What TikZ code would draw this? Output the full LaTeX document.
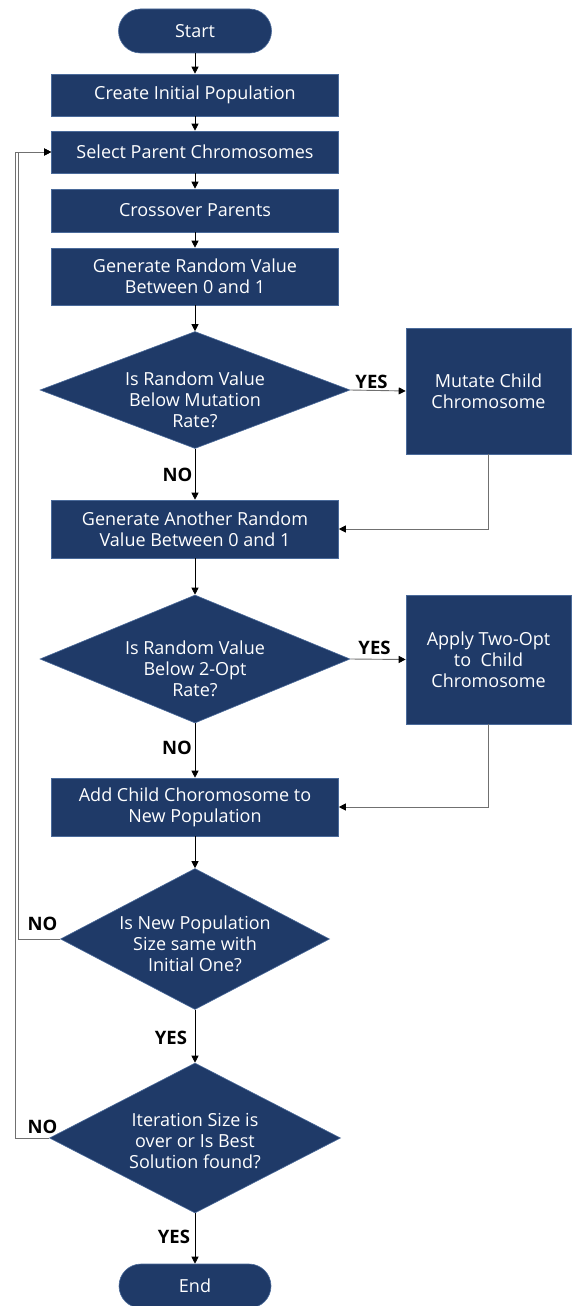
\documentclass[tikz,border=0pt]{standalone}
\usepackage{fontspec}
\setmainfont{Open Sans}
\usetikzlibrary{shapes.geometric,arrows.meta}
\definecolor{navy}{HTML}{1F3A68}
\definecolor{edge}{HTML}{4A6A9A}
\definecolor{wire}{HTML}{707070}
\begin{document}
\begin{tikzpicture}[x=1pt,y=-1pt,
  txt/.style={text=white, align=center, font=\fontsize{18}{21}\selectfont, inner sep=0pt},
  box/.style={rectangle, fill=navy, draw=edge, line width=0.6pt, txt},
  pill/.style={box, rounded corners=22pt},
  dec/.style={diamond, fill=navy, draw=edge, line width=0.6pt, inner sep=0pt},
  lab/.style={font=\fontsize{18.5}{20}\selectfont\bfseries, text=black, inner sep=0pt},
  flow/.style={draw=black, line width=0.8pt, -{Triangle[length=7pt,width=7pt]}},
  side/.style={draw=wire, line width=0.9pt, -{Triangle[length=7pt,width=7pt,color=black]}}]

\useasboundingbox (0,0) rectangle (571,1306);
\fill[white] (0,0) rectangle (571,1306);

% main column
\node[pill, minimum width=153pt, minimum height=44pt] (start) at (195,31) {Start};
\node[box, minimum width=287pt, minimum height=42pt] (create) at (195,95) {Create Initial Population};
\node[box, minimum width=287pt, minimum height=42pt] (select) at (195,152) {Select Parent Chromosomes};
\node[box, minimum width=287pt, minimum height=43pt] (cross) at (195,210.5) {Crossover Parents};
\node[box, minimum width=287pt, minimum height=57pt] (gen) at (195,276.5) {Generate Random Value\\Between 0 and 1};

\node[dec, minimum width=310pt, minimum height=117pt] (d1) at (195,390) {};
\node[txt] (d1t) at (195,400) {Is Random Value\\Below Mutation\\Rate?};

\node[box, minimum width=287pt, minimum height=58pt] (gen2) at (195,529) {Generate Another Random\\Value Between 0 and 1};

\node[dec, minimum width=310pt, minimum height=128pt] (d2) at (195,659) {};
\node[txt] (d2t) at (195,669) {Is Random Value\\Below 2-Opt\\Rate?};

\node[box, minimum width=287pt, minimum height=58pt] (add) at (195,807) {Add Child Choromosome to\\New Population};

\node[dec, minimum width=269pt, minimum height=141pt] (d3) at (195,939) {};
\node[txt] (d3t) at (195,944) {Is New Population\\Size same with\\Initial One?};

\node[dec, minimum width=291pt, minimum height=150pt] (d4) at (195,1138) {};
\node[txt] (d4t) at (195,1141) {Iteration Size is\\over or Is Best\\Solution found?};

\node[pill, minimum width=152pt, minimum height=44pt] (end) at (195,1286) {End};

% side branch
\node[box, minimum width=165pt, minimum height=126pt] (mut) at (488.5,391) {Mutate Child\\Chromosome};
\node[box, minimum width=165pt, minimum height=129pt] (apply) at (488.5,659.5) {Apply Two-Opt\\to\ \ Child\\Chromosome};

% connectors
\draw[flow] (start) -- (create);
\draw[flow] (create) -- (select);
\draw[flow] (select) -- (cross);
\draw[flow] (cross) -- (gen);
\draw[flow] (gen) -- (d1);
\draw[flow] (d1) -- (gen2);
\draw[flow] (gen2) -- (d2);
\draw[flow] (d2) -- (add);
\draw[flow] (add) -- (d3);
\draw[flow] (d3) -- (d4);
\draw[flow] (d4) -- (end);

\draw[side] (d1.east) -- (mut.west);
\draw[side] (d2.east) -- (apply.west);
\draw[side] (mut.south) |- (gen2.east);
\draw[side] (apply.south) |- (add.east);

\coordinate (l3) at (18,939);
\coordinate (l4) at (15,1138);
\draw[side] (d3.west) -- (l3) |- (select.west);
\draw[side] (d4.west) -- (l4) |- (select.west);

% branch labels
\node[lab] (y1) at (371.5,382) {YES};
\node[lab] (n1) at (177.5,475) {NO};
\node[lab] (y2) at (374.5,648) {YES};
\node[lab] (n2) at (177,748) {NO};
\node[lab] (n3) at (42.5,924) {NO};
\node[lab] (y3) at (171,1038) {YES};
\node[lab] (n4) at (42.5,1127) {NO};
\node[lab] (y4) at (174,1237) {YES};
\end{tikzpicture}
\end{document}
